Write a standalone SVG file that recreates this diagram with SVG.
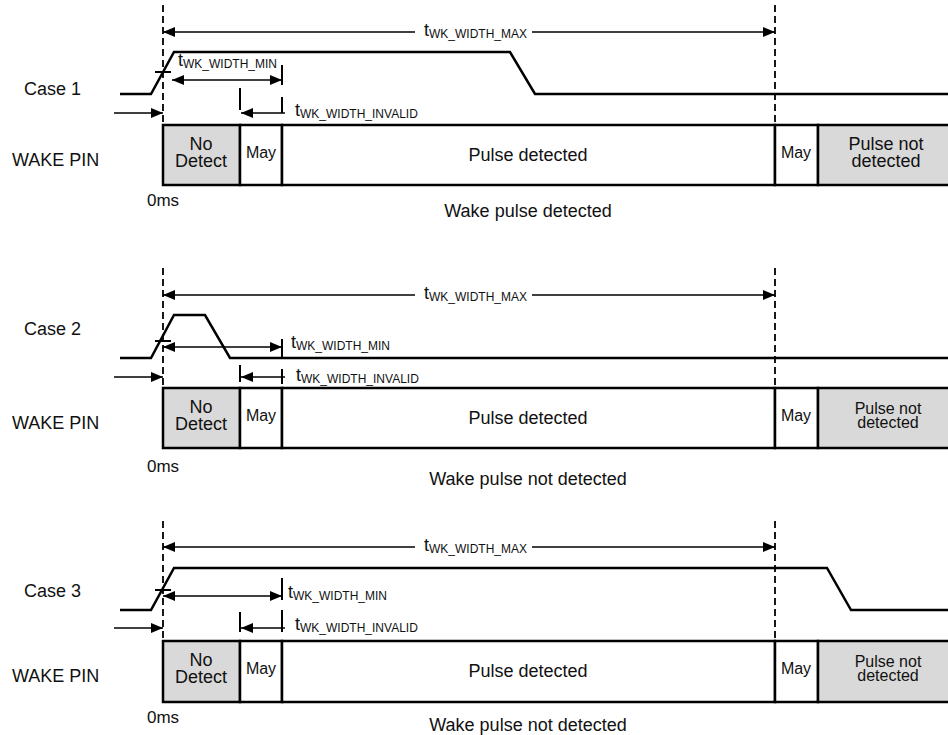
<svg xmlns="http://www.w3.org/2000/svg" width="948" height="735" viewBox="0 0 948 735">
<style>
text{font-family:"Liberation Sans",Arial,Helvetica,sans-serif;fill:#111}
.l{font-size:18px}
.c{text-anchor:middle}
.s{font-size:12px}
.m{font-size:16px}
.sig{fill:none;stroke:#000;stroke-width:2.5;stroke-linejoin:miter}
.bx{stroke:#000;stroke-width:2.5}
.g{fill:#d9d9d9}
.w{fill:#fff}
.dash{stroke:#000;stroke-width:1.8;stroke-dasharray:7 4;fill:none}
.dim{stroke:#000;stroke-width:1.3;fill:none}
.tk{stroke:#000;stroke-width:2;fill:none}
.ae{marker-end:url(#ah)}
.as{marker-start:url(#ah)}
.ab{marker-start:url(#ah);marker-end:url(#ah)}
</style>
<defs>
<marker id="ah" viewBox="0 0 12 10" refX="12" refY="5" markerWidth="12" markerHeight="10" markerUnits="userSpaceOnUse" orient="auto-start-reverse"><path d="M0,0 L12,5 L0,10 z" fill="#000"/></marker>
</defs>

<g id="case1">
<text class="l" x="24" y="95">Case 1</text>
<text class="l" x="12" y="166">WAKE PIN</text>
<text class="l" x="147" y="206" style="font-size:17px">0ms</text>
<text class="l c" x="528" y="217">Wake pulse detected</text>
<g id="wave1"><path class="sig" d="M120,94 L151,94 L174,52 L510,52 L535,94 L948,94"/></g>
<g id="box1">
<rect class="bx g" x="163" y="125" width="77" height="60"/>
<rect class="bx w" x="240" y="125" width="42" height="60"/>
<rect class="bx w" x="282" y="125" width="493" height="60"/>
<rect class="bx w" x="775" y="125" width="43" height="60"/>
<rect class="bx g" x="818" y="125" width="140" height="60"/>
<text class="l c" x="201" y="150">No</text>
<text class="l c" x="201" y="167">Detect</text>
<text class="m c" x="261" y="158">May</text>
<text class="l c" x="528" y="161">Pulse detected</text>
<text class="m c" x="796" y="158">May</text>
<text class="l c" x="886" y="150">Pulse not</text>
<text class="l c" x="886" y="167">detected</text>
</g>
<text class="l" x="424" y="36">t<tspan class="s" dy="2">WK_WIDTH_MAX</tspan></text>
<text class="l" x="178" y="66">t<tspan class="s" dy="2">WK_WIDTH_MIN</tspan></text>
<text class="l" x="295" y="116">t<tspan class="s" dy="2">WK_WIDTH_INVALID</tspan></text>
</g>

<g id="case2">
<text class="l" x="24" y="335">Case 2</text>
<text class="l" x="12" y="429">WAKE PIN</text>
<text class="l" x="147" y="472" style="font-size:17px">0ms</text>
<text class="l c" x="528" y="485">Wake pulse not detected</text>
<g id="wave2"><path class="sig" d="M120,358 L151,358 L174,315 L205,315 L230,358 L948,358"/></g>
<g id="box2">
<rect class="bx g" x="163" y="388" width="77" height="60"/>
<rect class="bx w" x="240" y="388" width="42" height="60"/>
<rect class="bx w" x="282" y="388" width="493" height="60"/>
<rect class="bx w" x="775" y="388" width="43" height="60"/>
<rect class="bx g" x="818" y="388" width="140" height="60"/>
<text class="l c" x="201" y="413">No</text>
<text class="l c" x="201" y="430">Detect</text>
<text class="m c" x="261" y="421">May</text>
<text class="l c" x="528" y="424">Pulse detected</text>
<text class="m c" x="796" y="421">May</text>
<text class="m c" x="888" y="414">Pulse not</text>
<text class="m c" x="888" y="428">detected</text>
</g>
<text class="l" x="424" y="299">t<tspan class="s" dy="2">WK_WIDTH_MAX</tspan></text>
<text class="l" x="291" y="348">t<tspan class="s" dy="2">WK_WIDTH_MIN</tspan></text>
<text class="l" x="296" y="381">t<tspan class="s" dy="2">WK_WIDTH_INVALID</tspan></text>
</g>

<g id="case3">
<text class="l" x="24" y="597">Case 3</text>
<text class="l" x="12" y="682">WAKE PIN</text>
<text class="l" x="147" y="723" style="font-size:17px">0ms</text>
<text class="l c" x="528" y="731">Wake pulse not detected</text>
<g id="wave3"><path class="sig" d="M120,610 L151,610 L174,568 L827,568 L851,610 L948,610"/></g>
<g id="box3">
<rect class="bx g" x="163" y="641" width="77" height="61"/>
<rect class="bx w" x="240" y="641" width="42" height="61"/>
<rect class="bx w" x="282" y="641" width="493" height="61"/>
<rect class="bx w" x="775" y="641" width="43" height="61"/>
<rect class="bx g" x="818" y="641" width="140" height="61"/>
<text class="l c" x="201" y="666">No</text>
<text class="l c" x="201" y="683">Detect</text>
<text class="m c" x="261" y="674">May</text>
<text class="l c" x="528" y="677">Pulse detected</text>
<text class="m c" x="796" y="674">May</text>
<text class="m c" x="888" y="667">Pulse not</text>
<text class="m c" x="888" y="681">detected</text>
</g>
<text class="l" x="424" y="551">t<tspan class="s" dy="2">WK_WIDTH_MAX</tspan></text>
<text class="l" x="288" y="598">t<tspan class="s" dy="2">WK_WIDTH_MIN</tspan></text>
<text class="l" x="295" y="630">t<tspan class="s" dy="2">WK_WIDTH_INVALID</tspan></text>
</g>

<g id="connectors">
<path class="dash" d="M163,5 V125 M775,5 V125"/>
<path class="tk" d="M155,72 H171"/>
<path class="dim as" d="M163,32 H415"/>
<path class="dim ae" d="M532,32 H775"/>
<path class="dim ab" d="M172,80 H282"/>
<path class="tk" d="M282,65 V85 M240,88 V110 M282,97 V113"/>
<path class="dim as" d="M241,113 H285"/>
<path class="dim ae" d="M114,113 H163"/>
<path class="dash" d="M163,268 V388 M775,268 V388"/>
<path class="tk" d="M155,341 H171"/>
<path class="dim as" d="M163,295 H415"/>
<path class="dim ae" d="M532,295 H775"/>
<path class="dim ab" d="M163,347 H282"/>
<path class="tk" d="M282,339 V358 M240,365 V382 M282,369 V384"/>
<path class="dim as" d="M241,377 H285"/>
<path class="dim ae" d="M114,377 H163"/>
<path class="dash" d="M163,521 V641 M775,521 V641"/>
<path class="tk" d="M155,590 H171"/>
<path class="dim as" d="M163,547 H415"/>
<path class="dim ae" d="M532,547 H775"/>
<path class="dim ab" d="M163,596 H282"/>
<path class="tk" d="M282,578 V600 M240,612 V632 M282,610 V632"/>
<path class="dim as" d="M241,628 H285"/>
<path class="dim ae" d="M114,628 H163"/>
</g>
</svg>
